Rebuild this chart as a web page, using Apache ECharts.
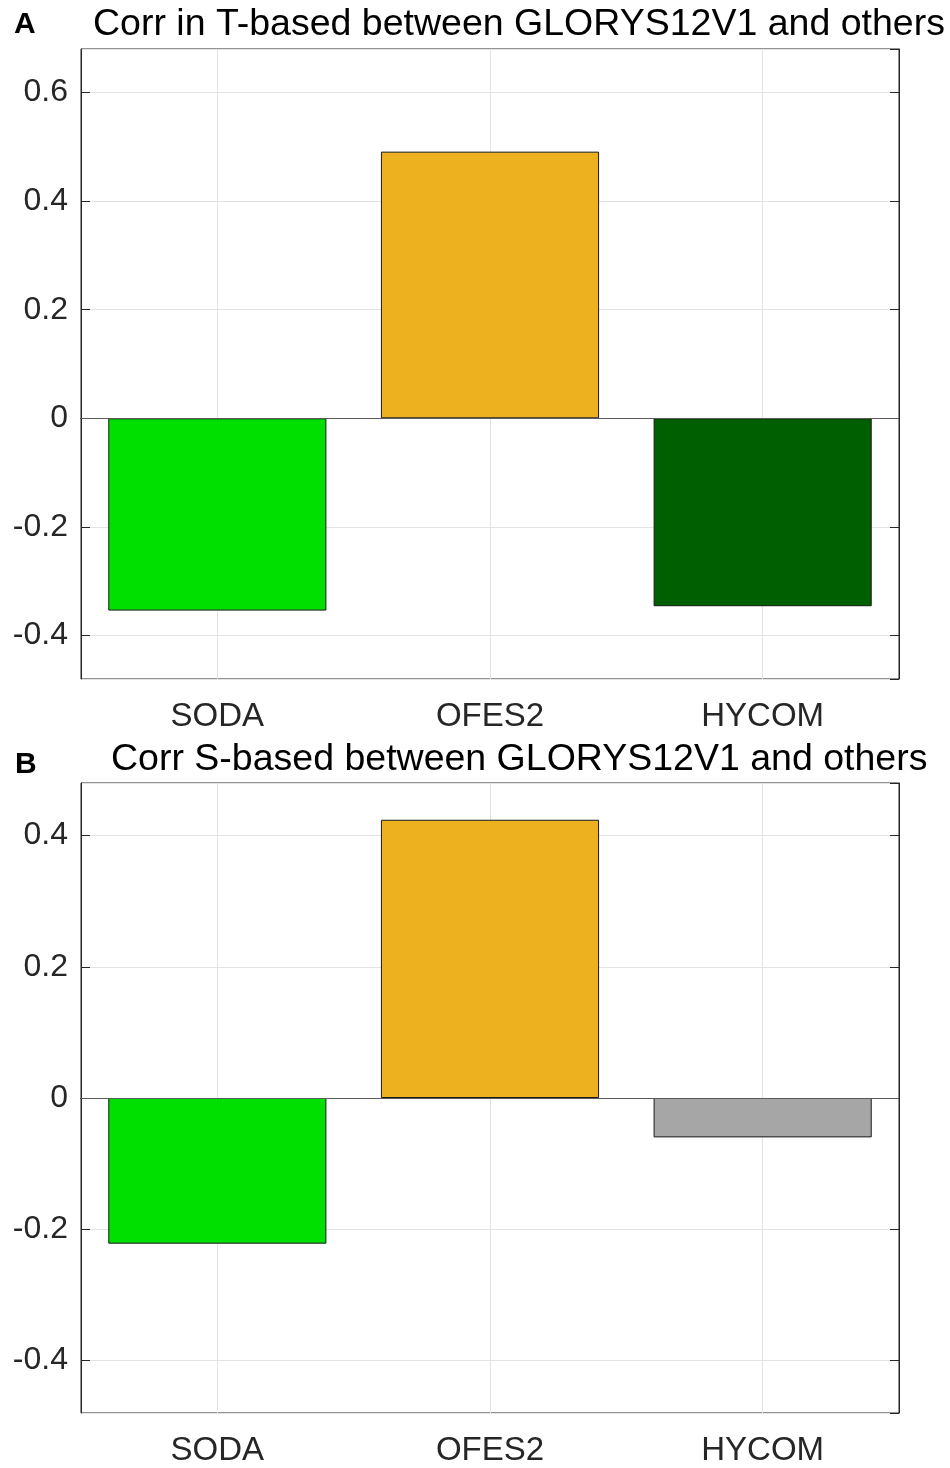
<!DOCTYPE html>
<html>
<head>
<meta charset="utf-8">
<script src="https://cdn.jsdelivr.net/npm/echarts@6/dist/echarts.min.js"></script>
<style>
html, body { margin: 0; padding: 0; background: #fff; }
#main { width: 950px; height: 1468px; }
</style>
</head>
<body>
<div id="main"></div>
<script>
// models compared against GLORYS12V1
var categories = ['SODA', 'OFES2', 'HYCOM'];
var corrT = [-0.354, 0.491, -0.346];
var corrS = [-0.222, 0.424, -0.060];
var colorsT = ['#00E000', '#EDB120', '#005F00'];
var colorsS = ['#00E000', '#EDB120', '#A6A6A6'];
var rangeT = [-0.48, 0.68];
var rangeS = [-0.48, 0.48];

var FONT = '"Liberation Sans", Arial, sans-serif';
var INK = '#262626';

function barData(values, colors) {
	var out = [];
	for (var i = 0; i < values.length; i++) {
		out.push({ value: values[i], itemStyle: { color: colors[i] } });
	}
	return out;
}

// bottom axis with labels, top axis only for the inner ticks
function xAxes(gridIndex) {
	return [
		{
			type: 'category', gridIndex: gridIndex, data: categories, position: 'bottom',
			axisLine: { lineStyle: { color: INK, width: 1 } },
			axisTick: { inside: true, length: 9, alignWithLabel: true, lineStyle: { color: INK } },
			axisLabel: { color: INK, fontFamily: FONT, fontSize: 33, margin: 21 },
			splitLine: { show: true, alignWithLabel: true, lineStyle: { color: '#E3E3E3' } }
		},
		{
			type: 'category', gridIndex: gridIndex, data: categories, position: 'top',
			axisLine: { lineStyle: { color: INK, width: 1 } },
			axisTick: { inside: true, length: 9, alignWithLabel: true, lineStyle: { color: INK } },
			axisLabel: { show: false },
			splitLine: { show: false }
		}
	];
}

function yAxes(gridIndex, range) {
	return [
		{
			type: 'value', gridIndex: gridIndex, position: 'left',
			min: range[0], max: range[1], splitNumber: 5,
			axisLine: { show: true, lineStyle: { color: INK, width: 1 } },
			axisTick: { show: true, inside: true, length: 9, lineStyle: { color: INK } },
			axisLabel: { color: INK, fontFamily: FONT, fontSize: 32, margin: 13,
				showMinLabel: false, showMaxLabel: false },
			splitLine: { show: true, lineStyle: { color: '#E3E3E3' } }
		},
		{
			type: 'value', gridIndex: gridIndex, position: 'right',
			min: range[0], max: range[1], splitNumber: 5,
			axisLine: { show: true, lineStyle: { color: INK, width: 1 } },
			axisTick: { show: true, inside: true, length: 9, lineStyle: { color: INK } },
			axisLabel: { show: false },
			splitLine: { show: false }
		}
	];
}

function barSeries(name, xi, yi, values, colors) {
	return {
		name: name, type: 'bar', xAxisIndex: xi, yAxisIndex: yi,
		barWidth: '80%',
		itemStyle: { borderColor: '#1a1a1a', borderWidth: 1 },
		data: barData(values, colors),
		markLine: {
			silent: true, symbol: 'none', animation: false,
			label: { show: false },
			lineStyle: { color: '#5a5a5a', width: 1, type: 'solid' },
			data: [{ yAxis: 0 }]
		},
		z: 3
	};
}

var myChart = echarts.init(document.getElementById('main'), null, { renderer: 'canvas' });

var option = {
	backgroundColor: '#ffffff',
	animation: false,
	title: [
		{ text: 'A', left: 9, top: 5, textStyle: { fontFamily: FONT, fontSize: 30, fontWeight: 'bold', color: '#000' } },
		{ text: 'Corr in T-based between GLORYS12V1 and others', left: 88, top: 1,
			textStyle: { fontFamily: FONT, fontSize: 37.5, fontWeight: 'normal', color: '#000' } },
		{ text: 'B', left: 10, top: 745, textStyle: { fontFamily: FONT, fontSize: 30, fontWeight: 'bold', color: '#000' } },
		{ text: 'Corr S-based between GLORYS12V1 and others', left: 106, top: 736,
			textStyle: { fontFamily: FONT, fontSize: 37.5, fontWeight: 'normal', color: '#000' } }
	],
	grid: [
		{ left: 81, width: 818, top: 49, height: 630, show: true, borderColor: INK, borderWidth: 1 },
		{ left: 81, width: 818, top: 783, height: 630, show: true, borderColor: INK, borderWidth: 1 }
	],
	xAxis: xAxes(0).concat(xAxes(1)),
	yAxis: yAxes(0, rangeT).concat(yAxes(1, rangeS)),
	series: [
		barSeries('T', 0, 0, corrT, colorsT),
		barSeries('S', 2, 2, corrS, colorsS)
	]
};

myChart.setOption(option, true);
</script>
</body>
</html>
